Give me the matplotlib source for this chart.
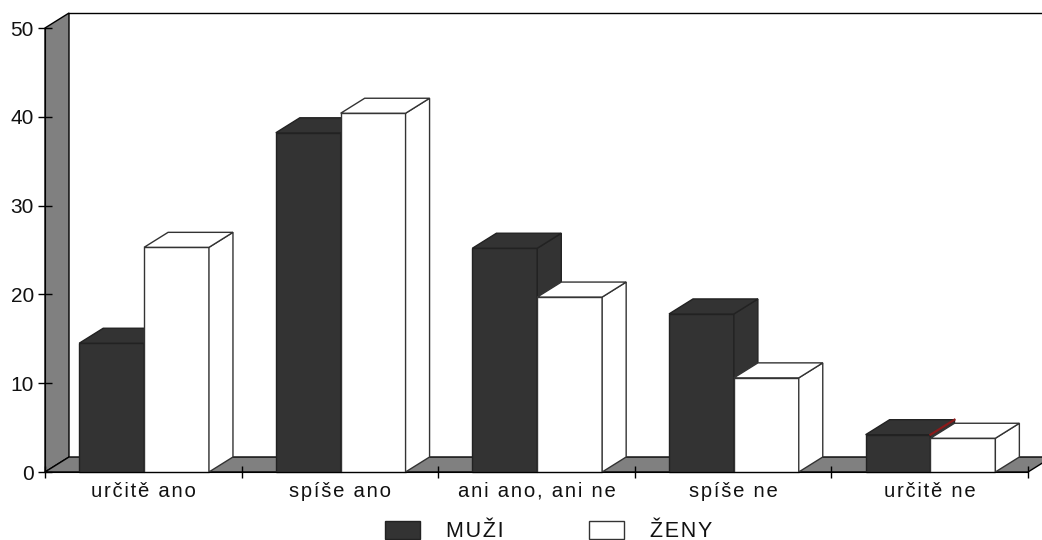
"""Prostorovy sloupcovy graf: muzi a zeny podle odpovedi."""

import matplotlib

matplotlib.use("Agg")
import matplotlib.pyplot as plt
from matplotlib.patches import Patch

CATEGORIES = ["určitě ano", "spíše ano", "ani ano, ani ne", "spíše ne", "určitě ne"]
MUZI = [14.5, 38.2, 25.2, 17.8, 4.2]
ZENY = [25.3, 40.4, 19.7, 10.6, 3.8]
Y_TICKS = [0, 10, 20, 30, 40, 50]
SERIES_NAMES = ["MUŽI", "ŽENY"]

DARK = "#333333"
WALL = "#808080"
TEXT = "#111111"
BAR_W = 0.33
CENTER = 0.504
DX = 24 / 196.6  # hloubka 3D v jednotkach os
DY = 15 / 8.88

plt.rcParams["font.family"] = ["Liberation Sans", "DejaVu Sans"]


def spaced(s: str) -> str:
    # proklad pismen jako v originale
    return "\u200a".join(s)


def box(ax, left, value, face, edge):
    """Predni stena, bok a vrsek jednoho sloupce."""
    right = left + BAR_W
    ax.bar(left, value, BAR_W, align="edge", color=face, edgecolor=edge, lw=1, clip_on=False, zorder=3)
    ax.fill(
        [right, right + DX, right + DX, right],
        [0, DY, value + DY, value],
        facecolor=face, edgecolor=edge, lw=1, clip_on=False, zorder=3,
    )
    ax.fill(
        [left, left + DX, right + DX, right],
        [value, value + DY, value + DY, value],
        facecolor=face, edgecolor=edge, lw=1, clip_on=False, zorder=3,
    )


fig = plt.figure(figsize=(10.42, 5.4), dpi=100)
ax = fig.add_axes([45 / 1042, 68 / 540, 983 / 1042, 444 / 540])
n = len(CATEGORIES)
ax.set_xlim(0, n)
ax.set_ylim(0, 50)

# leva stena a podlaha
ax.fill([0, DX, DX, 0], [0, DY, 50 + DY, 50], facecolor=WALL, edgecolor="black", lw=1, clip_on=False, zorder=1)
ax.fill([0, DX, n + DX, n], [0, DY, DY, 0], facecolor=WALL, edgecolor="black", lw=1, clip_on=False, zorder=1)
ax.plot([DX, n + DX], [50 + DY, 50 + DY], color="black", lw=1, clip_on=False, zorder=1)

for i in range(n):
    box(ax, i + CENTER - BAR_W, MUZI[i], DARK, "#222222")
    box(ax, i + CENTER, ZENY[i], "white", "#333333")

# cerveny okraj u posledniho sloupce
ax.plot(
    [n - 1 + CENTER, n - 1 + CENTER + DX], [MUZI[-1], MUZI[-1] + DY],
    color="#8b1a1a", lw=1.6, clip_on=False, zorder=4,
)

for side in ("top", "right"):
    ax.spines[side].set_visible(False)
for side in ("left", "bottom"):
    ax.spines[side].set_zorder(5)

ax.set_yticks(Y_TICKS)
ax.set_yticklabels([str(v) for v in Y_TICKS], fontsize=15, color=TEXT)
ax.tick_params(axis="y", direction="inout", length=10, width=1, pad=3, zorder=6)
ax.set_xticks(range(n + 1))
ax.set_xticklabels([])
ax.tick_params(axis="x", direction="inout", length=9, width=1, zorder=6)
ax.set_xticks([i + 0.5 for i in range(n)], minor=True)
ax.set_xticklabels([spaced(c) for c in CATEGORIES], minor=True, fontsize=14.6, color=TEXT)
ax.tick_params(axis="x", which="minor", length=0, pad=7)

handles = [
    Patch(facecolor=DARK, edgecolor="#222222", label=spaced(SERIES_NAMES[0])),
    Patch(facecolor="white", edgecolor="#333333", label=spaced(SERIES_NAMES[1])),
]
ax.legend(
    handles=handles, ncol=2, frameon=False, loc="lower left",
    bbox_to_anchor=(385 / 1042, -2 / 540), bbox_transform=fig.transFigure,
    fontsize=15.5, handlelength=1.63, handleheight=0.9, handletextpad=1.2,
    columnspacing=3.98, borderpad=0, borderaxespad=0, labelcolor=TEXT,
)

fig.savefig("out.png", dpi=100)
